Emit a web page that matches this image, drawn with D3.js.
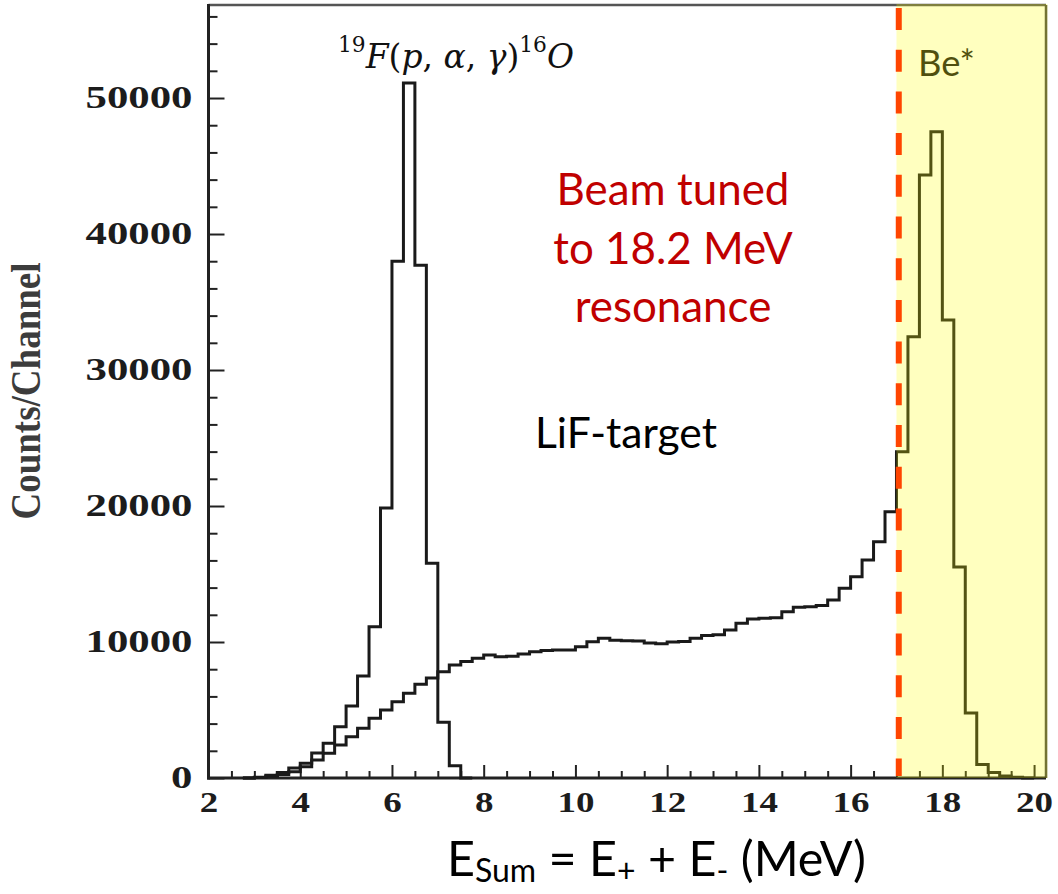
<!DOCTYPE html>
<html>
<head>
<meta charset="utf-8">
<script src="https://cdn.jsdelivr.net/npm/d3@7"></script>
<style>
  html, body { margin: 0; padding: 0; background: #ffffff; }
  svg { display: block; }
</style>
</head>
<body>
<svg id="chart" width="1058" height="894"></svg>
<script>
// ---------------- data ----------------
const binWidth = 0.25;                 // MeV per channel
const binStart = 2.0;                  // first channel lower edge (MeV)
// main LiF-target spectrum (continuum + Be* peak), counts per channel
const mainCounts = [
  0, 0, 0, 0,
  50, 120, 250, 460,
  830, 1320, 1820, 2430,
  3040, 3650, 4390, 5000,
  5610, 6230, 6900, 7350,
  7820, 8310, 8560, 8800,
  9040, 8920, 8950, 9120,
  9290, 9380, 9410, 9420,
  9660, 10020, 10270, 10120,
  10100, 10080, 9930, 9880,
  10000, 10040, 10270, 10480,
  10530, 10880, 11370, 11700,
  11740, 11780, 12230, 12550,
  12600, 12680, 13090, 13950,
  14800, 16030, 17380, 19580,
  23990, 32450, 44340, 47520,
  33680, 15510, 4780, 1000,
  400, 150, 50, 0
];
// 19F(p,alpha,gamma)16O peak spectrum
const peakCounts = [
  0, 0, 0, 0,
  30, 200, 400, 730,
  1080, 1830, 2550, 3770,
  5290, 7500, 11130, 19850,
  38000, 51100, 37700, 15800,
  4100, 900, 0, 0
];
const xMajorTicks = [2, 4, 6, 8, 10, 12, 14, 16, 18, 20];
const yMajorTicks = [0, 10000, 20000, 30000, 40000, 50000];
const beCut = 17.0;          // start of Be* window (MeV)
const beamLine = 17.05;      // dashed marker (MeV)
const xDomain = [2, 20.26];
const yDomain = [0, 56840];

// ---------------- layout ----------------
const svg = d3.select("#chart");
const L = 208.5, R = 1046, T = 5, B = 778;
const x = d3.scaleLinear().domain(xDomain).range([L, R]);
const y = d3.scaleLinear().domain(yDomain).range([B, T]);

const xMinor = d3.range(2, 20.01, 0.5).filter(v => !xMajorTicks.includes(v));
const yMinor = d3.range(0, 56001, 2000).filter(v => !yMajorTicks.includes(v));

// ---------------- axes ----------------
const tickFont = "'Liberation Serif', 'Times New Roman', serif";

const gx = svg.append("g").attr("transform", `translate(0,${B})`)
  .call(d3.axisBottom(x).tickValues(xMajorTicks).tickSizeInner(-13).tickSizeOuter(0).tickPadding(13).tickFormat(d3.format("d")));
gx.select(".domain").remove();
gx.selectAll(".tick line").attr("stroke", "#222").attr("stroke-width", 2);
gx.selectAll(".tick text")
  .attr("font-family", tickFont).attr("font-weight", "bold").attr("font-size", 29)
  .attr("fill", "#1c1c1c")
  .each(function(d) {
    const s = String(d);
    d3.select(this).attr("textLength", 18.5 * s.length).attr("lengthAdjust", "spacingAndGlyphs");
  });

const gxm = svg.append("g").attr("transform", `translate(0,${B})`)
  .call(d3.axisBottom(x).tickValues(xMinor).tickSizeInner(-7).tickSizeOuter(0).tickFormat(""));
gxm.select(".domain").remove();
gxm.selectAll(".tick line").attr("stroke", "#222").attr("stroke-width", 2);

const gy = svg.append("g").attr("transform", `translate(${L},0)`)
  .call(d3.axisLeft(y).tickValues(yMajorTicks).tickSizeInner(-16).tickSizeOuter(0).tickPadding(16).tickFormat(d3.format("d")));
gy.select(".domain").remove();
gy.selectAll(".tick line").attr("stroke", "#222").attr("stroke-width", 2);
gy.selectAll(".tick text")
  .attr("font-family", tickFont).attr("font-weight", "bold").attr("font-size", 31)
  .attr("fill", "#1c1c1c")
  .each(function(d) {
    const s = String(d);
    d3.select(this).attr("textLength", 21.4 * s.length).attr("lengthAdjust", "spacingAndGlyphs");
  });

const gym = svg.append("g").attr("transform", `translate(${L},0)`)
  .call(d3.axisLeft(y).tickValues(yMinor).tickSizeInner(-9).tickSizeOuter(0).tickFormat(""));
gym.select(".domain").remove();
gym.selectAll(".tick line").attr("stroke", "#222").attr("stroke-width", 2);

// frame
svg.append("line").attr("x1", L).attr("x2", R).attr("y1", T).attr("y2", T).attr("stroke", "#555").attr("stroke-width", 2.5);
svg.append("line").attr("x1", R).attr("x2", R).attr("y1", T).attr("y2", B).attr("stroke", "#444").attr("stroke-width", 2.5);
svg.append("line").attr("x1", L).attr("x2", L).attr("y1", T - 1).attr("y2", B + 1.5).attr("stroke", "#222").attr("stroke-width", 3);
svg.append("line").attr("x1", L - 1.5).attr("x2", R).attr("y1", B).attr("y2", B).attr("stroke", "#222").attr("stroke-width", 3);

// ---------------- histograms ----------------
function stepPoints(counts) {
  let first = counts.findIndex(v => v > 0);
  let last = counts.length - 1 - [...counts].reverse().findIndex(v => v > 0);
  first = Math.max(0, first - 1);
  last = Math.min(counts.length - 1, last + 1);
  const pts = [];
  for (let i = first; i <= last; i++) pts.push([binStart + i * binWidth, counts[i]]);
  pts.push([binStart + (last + 1) * binWidth, 0]);
  return pts;
}
const stepLine = d3.line().x(d => x(d[0])).y(d => y(d[1])).curve(d3.curveStepAfter);

svg.append("path").datum(stepPoints(mainCounts))
  .attr("d", stepLine).attr("fill", "none").attr("stroke", "#1a1a1a")
  .attr("stroke-width", 3).attr("stroke-linejoin", "miter");
svg.append("path").datum(stepPoints(peakCounts))
  .attr("d", stepLine).attr("fill", "none").attr("stroke", "#1a1a1a")
  .attr("stroke-width", 3).attr("stroke-linejoin", "miter");

// ---------------- helper: fit text width ----------------
function fitWidth(sel, target) {
  const node = sel.node();
  const w = node.getBBox().width;
  const fs = parseFloat(sel.attr("font-size"));
  if (w > 0) sel.attr("font-size", fs * target / w);
  return sel;
}
const sans = "Lato, 'Open Sans', 'Noto Sans', sans-serif";

// Be* label (under yellow overlay so it takes the olive tint)
const beText = svg.append("text").attr("x", 918).attr("y", 76)
  .attr("font-family", sans).attr("font-size", 28).attr("fill", "#151515").text("Be*");
fitWidth(beText, 57);

// ---------------- Be* window ----------------
svg.append("rect")
  .attr("x", x(beCut)).attr("y", T - 1)
  .attr("width", R + 1.5 - x(beCut)).attr("height", B - T + 1)
  .attr("fill", "#ffff00").attr("fill-opacity", 0.25);

svg.append("line")
  .attr("x1", x(beamLine)).attr("x2", x(beamLine))
  .attr("y1", T + 3).attr("y2", B - 2)
  .attr("stroke", "#ff4500").attr("stroke-width", 6)
  .attr("stroke-dasharray", "22,19.7");

// ---------------- annotations ----------------
// title 19F(p,α,γ)16O
const title = svg.append("text").attr("x", 338).attr("y", 68)
  .attr("font-family", "'DejaVu Serif', 'Liberation Serif', serif").attr("font-size", 36).attr("fill", "#111");
title.append("tspan").attr("font-size", "0.66em").attr("dy", -16).text("19");
title.append("tspan").attr("dy", 16).attr("font-style", "italic").text("F");
title.append("tspan").text("(");
title.append("tspan").attr("font-style", "italic").text("p");
title.append("tspan").text(", ");
title.append("tspan").attr("font-style", "italic").text("α");
title.append("tspan").text(", ");
title.append("tspan").attr("font-style", "italic").text("γ");
title.append("tspan").text(")");
title.append("tspan").attr("font-size", "0.66em").attr("dy", -16).text("16");
title.append("tspan").attr("dy", 16).attr("font-style", "italic").text("O");
fitWidth(title, 236);

// red note
const red = "#c00000";
const redLines = ["Beam tuned", "to 18.2 MeV", "resonance"];
const redBase = [205, 264, 322];
const redSel = svg.append("g");
const r0 = redSel.append("text").attr("x", 673).attr("y", redBase[0]).attr("text-anchor", "middle")
  .attr("font-family", sans).attr("font-size", 40).attr("fill", red).text(redLines[0]);
fitWidth(r0, 233);
const redFs = r0.attr("font-size");
redLines.slice(1).forEach((t, i) => {
  redSel.append("text").attr("x", 673).attr("y", redBase[i + 1]).attr("text-anchor", "middle")
    .attr("font-family", sans).attr("font-size", redFs).attr("fill", red).text(t);
});

// LiF-target
const lif = svg.append("text").attr("x", 535).attr("y", 448)
  .attr("font-family", sans).attr("font-size", 40).attr("fill", "#000").text("LiF-target");
fitWidth(lif, 182);

// y axis title
svg.append("text")
  .attr("transform", "translate(40,391) rotate(-90) scale(1,1.3)")
  .attr("text-anchor", "middle")
  .attr("font-family", tickFont).attr("font-weight", "bold").attr("font-size", 32)
  .attr("fill", "#3c3c3c")
  .attr("textLength", 257).attr("lengthAdjust", "spacingAndGlyphs")
  .text("Counts/Channel");

// x axis title
const xt = svg.append("text").attr("x", 447).attr("y", 876)
  .attr("font-family", sans).attr("font-size", 44).attr("fill", "#000");
xt.append("tspan").text("E");
xt.append("tspan").attr("font-size", "0.66em").attr("dy", 6).text("Sum");
xt.append("tspan").attr("dy", -6).text(" = E");
xt.append("tspan").attr("font-size", "0.66em").attr("dy", 6).text("+");
xt.append("tspan").attr("dy", -6).text(" + E");
xt.append("tspan").attr("font-size", "0.66em").attr("dy", 6).text("-");
xt.append("tspan").attr("dy", -6).text(" (MeV)");
fitWidth(xt, 419);
</script>
</body>
</html>
